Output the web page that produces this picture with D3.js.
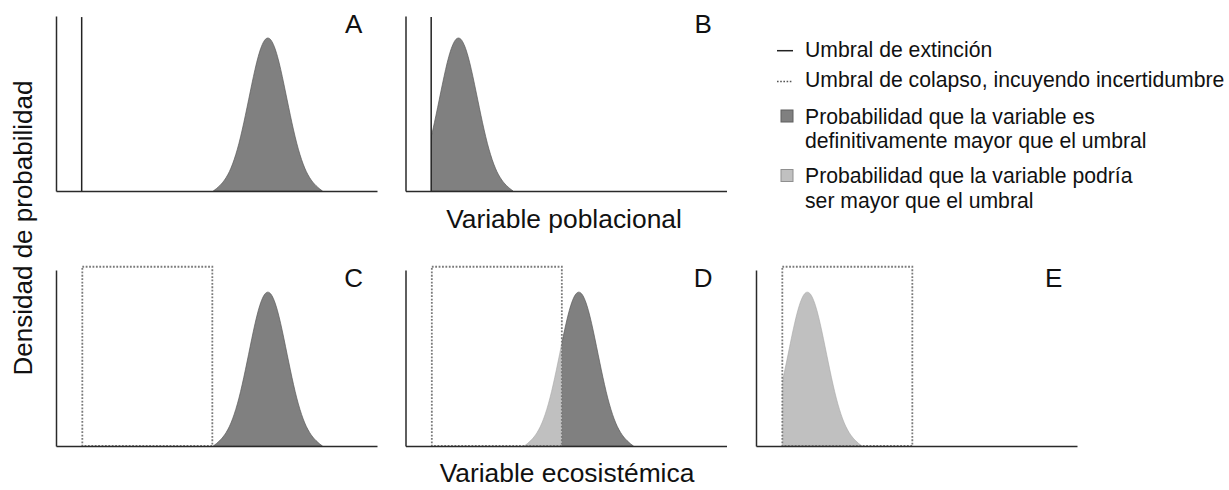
<!DOCTYPE html>
<html>
<head>
<meta charset="utf-8">
<script src="https://cdn.jsdelivr.net/npm/d3@7"></script>
<style>
  html, body { margin: 0; padding: 0; background: #fff; }
  svg { display: block; }
  text { font-family: "Liberation Sans", Arial, sans-serif; fill: #111; }
</style>
</head>
<body>
<div id="chart"></div>
<script>
// ---------------- data ----------------
const panelLabels   = ["A", "B", "C", "D", "E"];
const panelRow      = [0, 0, 1, 1, 1];
const panelCol      = [0, 1, 0, 1, 2];
const peakPosition  = [66, 16.5, 66, 54, 16];          // variable units (0-100)
const extinctionAt  = [8, 8, null, null, null];        // solid threshold
const collapseLow   = [null, null, 8.2, 8.2, 8.2];     // dotted box, lower edge
const collapseHigh  = [null, null, 48.7, 48.7, 48.7];  // dotted box, upper edge
// shared bell-shaped density profile (offset from peak, relative height)
const profileOffset = [0, 1, 2, 3, 4, 5, 6, 7, 8, 9, 10, 11, 12, 13, 14, 15, 16, 17];
const profileHeight = [1, 0.986, 0.944, 0.879, 0.795, 0.698, 0.596, 0.495, 0.399, 0.312,
                       0.238, 0.176, 0.126, 0.088, 0.058, 0.035, 0.016, 0];
const rowAxisTitles = ["Variable poblacional", "Variable ecosistémica"];
const yAxisTitle    = "Densidad de probabilidad";
const legendItems   = [
  { kind: "line",   lines: ["Umbral de extinción"] },
  { kind: "dotted", lines: ["Umbral de colapso, incuyendo incertidumbre"] },
  { kind: "dark",   lines: ["Probabilidad que la variable es", "definitivamente mayor que el umbral"] },
  { kind: "light",  lines: ["Probabilidad que la variable podría", "ser mayor que el umbral"] }
];

// ---------------- layout ----------------
const W = 1229, H = 490;
const colX0 = [56, 405.5, 756];
const panelW = 321;
const rows = [{ top: 16, bottom: 191 }, { top: 270, bottom: 446 }];
const yMax = 1.144, boxTop = 1.165;
const DARK = "#808080", LIGHT = "#c0c0c0";

const svg = d3.select("#chart").append("svg").attr("width", W).attr("height", H);
const defs = svg.append("defs");

// full symmetric profile points
const shape = [];
for (let k = profileOffset.length - 1; k > 0; k--) shape.push({ dx: -profileOffset[k], h: profileHeight[k] });
for (let k = 0; k < profileOffset.length; k++) shape.push({ dx: profileOffset[k], h: profileHeight[k] });

panelLabels.forEach((lab, i) => {
  const r = rows[panelRow[i]];
  const x0 = colX0[panelCol[i]];
  const x = d3.scaleLinear().domain([0, 100]).range([x0, x0 + panelW]);
  const y = d3.scaleLinear().domain([0, yMax]).range([r.bottom, r.top]);
  const g = svg.append("g");

  const lower = extinctionAt[i] != null ? extinctionAt[i] : collapseLow[i];
  const upper = extinctionAt[i] != null ? extinctionAt[i] : collapseHigh[i];

  const pts = shape.map(d => ({ x: peakPosition[i] + d.dx, h: d.h }));
  const area = d3.area()
    .x(d => x(d.x)).y0(y(0)).y1(d => y(d.h))
    .curve(d3.curveMonotoneX);

  // clip regions
  const idL = "clipL" + i, idD = "clipD" + i;
  defs.append("clipPath").attr("id", idL).append("rect")
    .attr("x", x(lower)).attr("y", r.top - 10)
    .attr("width", Math.max(0, x(upper) - x(lower))).attr("height", r.bottom - r.top + 20);
  defs.append("clipPath").attr("id", idD).append("rect")
    .attr("x", x(upper)).attr("y", r.top - 10)
    .attr("width", x(100) - x(upper)).attr("height", r.bottom - r.top + 20);

  g.append("path").datum(pts).attr("d", area)
    .attr("fill", LIGHT).attr("stroke", "#a8a8a8").attr("stroke-width", 0.6)
    .attr("clip-path", `url(#${idL})`);
  g.append("path").datum(pts).attr("d", area)
    .attr("fill", DARK).attr("stroke", "#5a5a5a").attr("stroke-width", 0.7)
    .attr("clip-path", `url(#${idD})`);

  // collapse box
  if (collapseLow[i] != null) {
    g.append("rect")
      .attr("x", x(collapseLow[i])).attr("y", y(boxTop))
      .attr("width", x(collapseHigh[i]) - x(collapseLow[i]))
      .attr("height", y(0) - y(boxTop))
      .attr("fill", "none").attr("stroke", "#7a7a7a").attr("stroke-width", 1.8)
      .attr("stroke-dasharray", "1.8,1.6");
  }
  // extinction line
  if (extinctionAt[i] != null) {
    g.append("line")
      .attr("x1", x(extinctionAt[i])).attr("x2", x(extinctionAt[i]))
      .attr("y1", y(0)).attr("y2", y(1.137))
      .attr("stroke", "#222").attr("stroke-width", 1.5);
  }

  // axes (plain lines)
  const ax = g.append("g").attr("transform", `translate(0,${r.bottom})`)
    .call(d3.axisBottom(x).ticks(0).tickSizeOuter(0));
  const ay = g.append("g").attr("transform", `translate(${x0},0)`)
    .call(d3.axisLeft(y).ticks(0).tickSizeOuter(0));
  [ax, ay].forEach(a => a.select(".domain").attr("stroke", "#2a2a2a").attr("stroke-width", 1.5));

  g.append("text").attr("x", x0 + 297.7).attr("y", r.top + 17)
    .attr("text-anchor", "middle").style("font-size", "26px").text(lab);
});

// axis titles
svg.append("text").attr("x", 564).attr("y", 228).attr("text-anchor", "middle")
  .style("font-size", "26.4px").text(rowAxisTitles[0]);
svg.append("text").attr("x", 567).attr("y", 482).attr("text-anchor", "middle")
  .style("font-size", "26.4px").text(rowAxisTitles[1]);
svg.append("text").attr("transform", "translate(32,228) rotate(-90)")
  .attr("text-anchor", "middle").style("font-size", "26px").text(yAxisTitle);

// legend
const lg = svg.append("g");
const baselines = [[57], [87], [123.5, 148], [183, 207.5]];
legendItems.forEach((it, k) => {
  const b = baselines[k];
  if (it.kind === "line") {
    lg.append("line").attr("x1", 777).attr("x2", 793).attr("y1", b[0] - 6.3).attr("y2", b[0] - 6.3)
      .attr("stroke", "#222").attr("stroke-width", 1.5);
  } else if (it.kind === "dotted") {
    lg.append("line").attr("x1", 777).attr("x2", 793).attr("y1", b[0] - 5.5).attr("y2", b[0] - 5.5)
      .attr("stroke", "#555").attr("stroke-width", 1.6).attr("stroke-dasharray", "1.6,1.6");
  } else {
    lg.append("rect").attr("x", 781).attr("y", b[0] - 13.5).attr("width", 12).attr("height", 12)
      .attr("fill", it.kind === "dark" ? DARK : LIGHT)
      .attr("stroke", it.kind === "dark" ? "#5f5f5f" : "#8f8f8f").attr("stroke-width", 1);
  }
  it.lines.forEach((t, j) => {
    lg.append("text").attr("x", 805).attr("y", b[j]).style("font-size", "21.2px").text(t);
  });
});
</script>
</body>
</html>
